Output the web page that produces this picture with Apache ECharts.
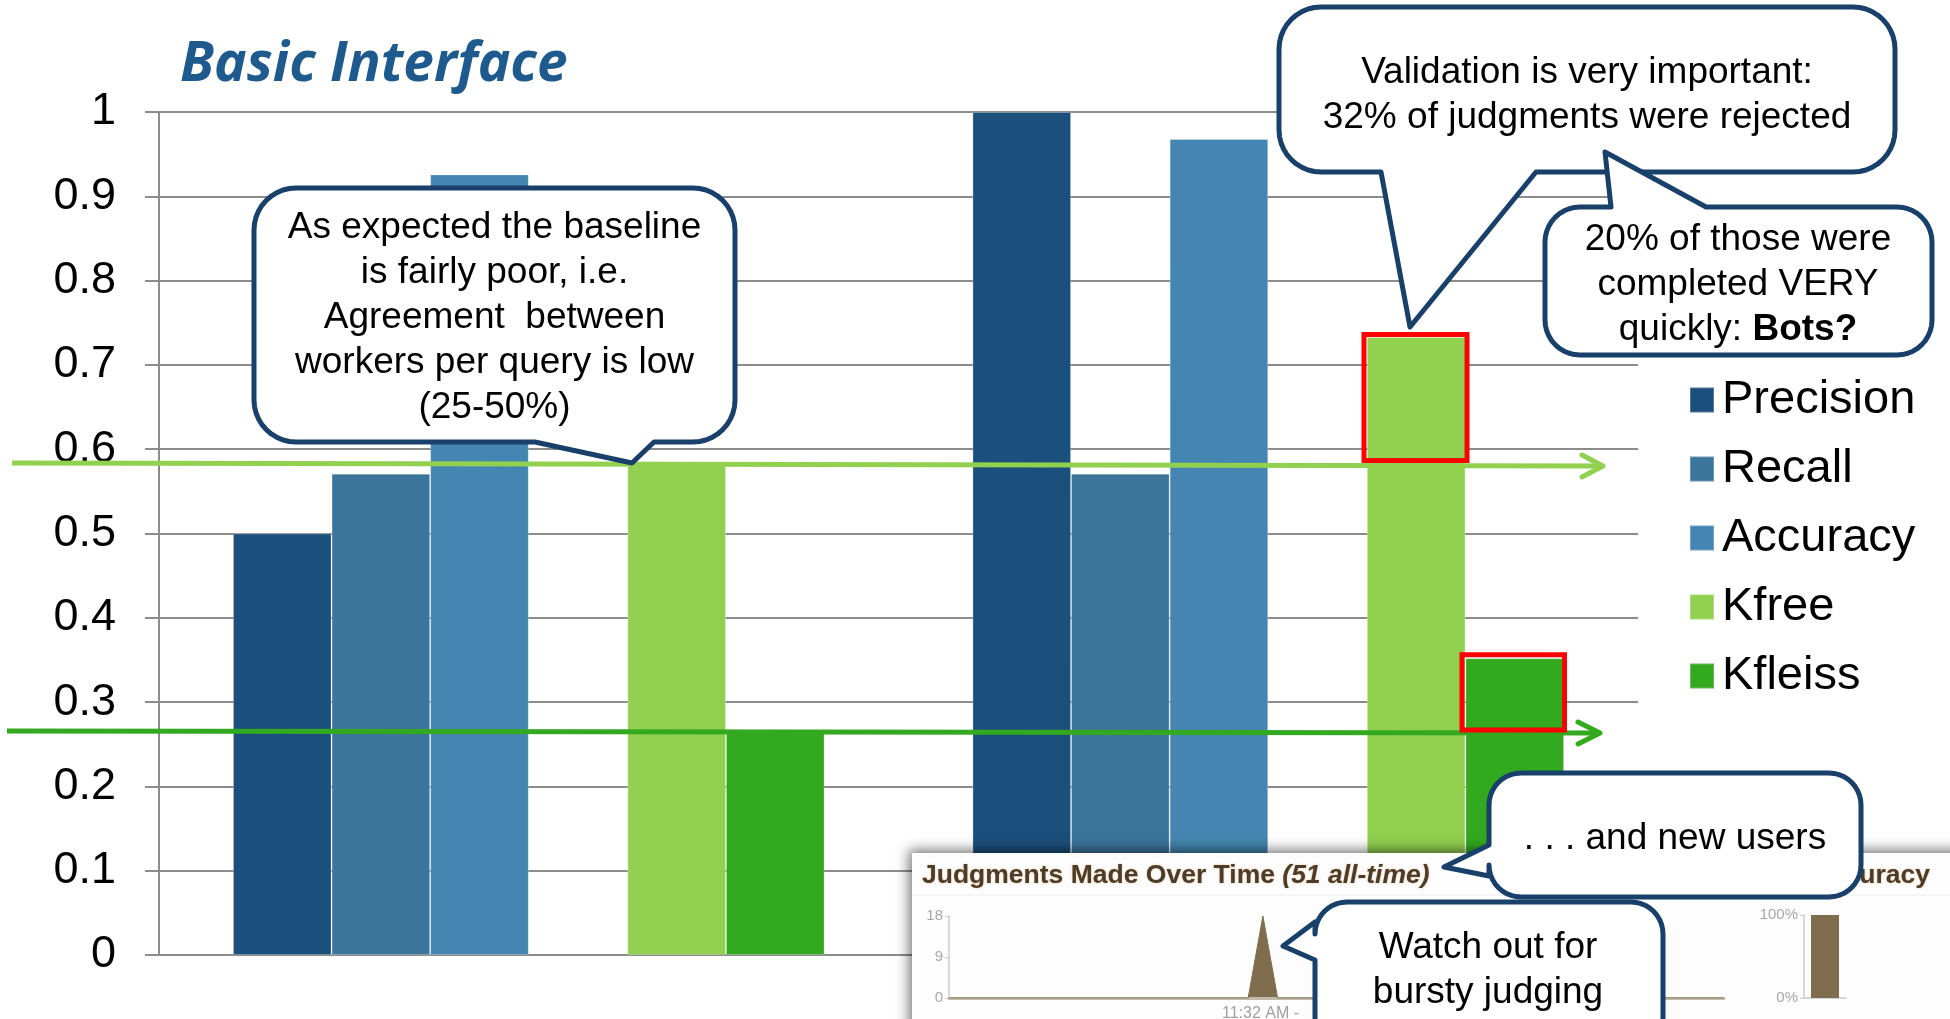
<!DOCTYPE html>
<html><head><meta charset="utf-8">
<script src="https://cdn.jsdelivr.net/npm/echarts@6/dist/echarts.min.js"></script>
<style>html,body{margin:0;padding:0;background:#fff}#c{width:1950px;height:1019px}</style>
</head><body><div id="c"></div>
<script>
// ---------- data ----------
const categories = ['Basic', 'Validated'];
const seriesNames = ['Precision', 'Recall', 'Accuracy', 'Kfree', 'Kfleiss'];
const precision = [0.5, 1.0];
const recall = [0.571, 0.571];
const accuracy = [0.926, 0.968];
const kfree = [0.585, 0.733];
const kfleiss = [0.265, 0.352];
const yTickLabels = ['0', '0.1', '0.2', '0.3', '0.4', '0.5', '0.6', '0.7', '0.8', '0.9', '1'];
// inset screenshot data
const burstTime = [0, 38.6, 40.5, 42.4, 100];
const burstCount = [0, 0, 18, 0, 0];
const insetAccuracy = [100];

// ---------- styles ----------
const FONT = "'Liberation Sans', Arial, sans-serif";
const colors = ['#1b4f7c', '#3b759b', '#4486b1', '#92d050', '#33a91f'];
const NAVY = '#18406a';

function calloutPoints(x0, y0, x1, y1, r, ptr) {
  ptr = ptr || {};
  const pts = [];
  const arc = (cx, cy, a0, a1) => {
    const n = 10;
    for (let i = 0; i <= n; i++) {
      const a = (a0 + (a1 - a0) * i / n) * Math.PI / 180;
      pts.push([cx + r * Math.cos(a), cy + r * Math.sin(a)]);
    }
  };
  arc(x0 + r, y0 + r, 180, 270);
  (ptr.top || []).forEach(p => pts.push(p));
  arc(x1 - r, y0 + r, 270, 360);
  (ptr.right || []).forEach(p => pts.push(p));
  arc(x1 - r, y1 - r, 0, 90);
  (ptr.bottom || []).forEach(p => pts.push(p));
  arc(x0 + r, y1 - r, 90, 180);
  (ptr.left || []).forEach(p => pts.push(p));
  return pts;
}
function callout(pts, zl, z) {
  return { type: 'polygon', zlevel: zl, z: z, shape: { points: pts },
    style: { fill: '#ffffff', stroke: NAVY, lineWidth: 5, lineJoin: 'round' } };
}
function ctext(x, y, text, zl, z, extra) {
  return Object.assign({ type: 'text', zlevel: zl, z: z, x: x, y: y,
    style: Object.assign({ text: text, fill: '#000', fontSize: 37, fontFamily: FONT,
      align: 'center', verticalAlign: 'middle', lineHeight: 45 }, extra || {}) });
}

const chart = echarts.init(document.getElementById('c'));

const barSeries = [];
const vals = [precision, recall, accuracy, null, kfree, kfleiss];
let ci = 0;
vals.forEach((v) => {
  if (v === null) {
    barSeries.push({ type: 'bar', name: ' ', data: [null, null], barGap: '0%', barCategoryGap: '20%' });
  } else {
    const col = colors[ci];
    barSeries.push({ type: 'bar', name: seriesNames[ci], data: v, barGap: '0%', barCategoryGap: '20%',
      itemStyle: { color: col, borderColor: 'rgba(255,255,255,0.25)', borderWidth: 1 } });
    ci++;
  }
});

const TITLE_FONT_INSET = 26.5;

const option = {
  animation: false,
  backgroundColor: '#ffffff',
  color: colors,
  legend: {
    data: seriesNames, orient: 'vertical', left: 1684, top: 370,
    itemWidth: 24, itemHeight: 25, itemGap: 19, icon: 'rect', selectedMode: false,
    textStyle: { fontSize: 47, fontFamily: FONT, color: '#000', lineHeight: 50, padding: [0, 0, 0, 3] }
  },
  grid: [
    { left: 159, right: 312, top: 112, bottom: 64 },
    { left: 949, top: 916, width: 775, height: 82, zlevel: 1, z: 5 },
    { left: 1804, top: 915, width: 42, height: 83, zlevel: 1, z: 5 }
  ],
  xAxis: [
    { type: 'category', gridIndex: 0, data: categories,
      axisLine: { lineStyle: { color: '#8c8c8c', width: 2 } },
      axisTick: { show: false }, axisLabel: { show: false } },
    { type: 'value', gridIndex: 1, min: 0, max: 100, zlevel: 1, z: 5,
      axisLine: { show: true, lineStyle: { color: '#c2baab', width: 3 } },
      axisTick: { show: false }, axisLabel: { show: false }, splitLine: { show: false } },
    { type: 'category', gridIndex: 2, data: ['Accuracy'], zlevel: 1, z: 5,
      axisLine: { lineStyle: { color: '#c8c8c8', width: 1.5 } },
      axisTick: { show: false }, axisLabel: { show: false } }
  ],
  yAxis: [
    { type: 'value', gridIndex: 0, min: 0, max: 1, interval: 0.1,
      axisLine: { show: true, lineStyle: { color: '#8c8c8c', width: 2 } },
      axisTick: { show: true, length: 14, lineStyle: { color: '#8c8c8c', width: 2 } },
      axisLabel: { fontSize: 45, fontFamily: FONT, color: '#000', margin: 43,
        formatter: (v) => yTickLabels[Math.round(v * 10)] },
      splitLine: { lineStyle: { color: '#8c8c8c', width: 2 } } },
    { type: 'value', gridIndex: 1, min: 0, max: 18, interval: 9, zlevel: 1, z: 5,
      axisLine: { show: true, lineStyle: { color: '#cccccc', width: 1.5 } },
      axisTick: { show: true, length: 4, lineStyle: { color: '#cccccc' } },
      axisLabel: { fontSize: 15, fontFamily: FONT, color: '#a8a8a8', margin: 6 },
      splitLine: { show: false } },
    { type: 'value', gridIndex: 2, min: 0, max: 100, interval: 100, zlevel: 1, z: 5,
      axisLine: { show: true, lineStyle: { color: '#cccccc', width: 1.5 } },
      axisTick: { show: true, length: 4, lineStyle: { color: '#cccccc' } },
      axisLabel: { fontSize: 15, fontFamily: FONT, color: '#a8a8a8', margin: 6, formatter: '{value}%' },
      splitLine: { show: false } }
  ],
  series: barSeries.concat([
    { type: 'line', xAxisIndex: 1, yAxisIndex: 1, zlevel: 1, z: 5, symbol: 'none',
      data: burstTime.map((t, i) => [t, burstCount[i]]),
      lineStyle: { color: '#7f6d4d', width: 1 }, areaStyle: { color: '#7f6d4d', opacity: 1 } },
    { type: 'bar', xAxisIndex: 2, yAxisIndex: 2, zlevel: 1, z: 5, data: insetAccuracy, barWidth: 28,
      itemStyle: { color: '#7f6d4d' } }
  ]),
  graphic: { elements: [
    // title
    { type: 'text', x: 180, y: 65, z: 20,
      style: { text: 'Basic Interface', fill: '#1e5a8e', fontSize: 55, fontWeight: 'bold', fontStyle: 'italic',
        fontFamily: "'Open Sans', Lato, sans-serif", align: 'left', verticalAlign: 'middle' } },
    // baseline arrows
    { type: 'polyline', z: 10, shape: { points: [[12, 463], [1600, 466]] },
      style: { stroke: '#92d050', lineWidth: 5, fill: null } },
    { type: 'polyline', z: 10, shape: { points: [[1582, 455], [1603, 466], [1582, 477]] },
      style: { stroke: '#92d050', lineWidth: 5, fill: null, lineCap: 'round', lineJoin: 'round' } },
    { type: 'polyline', z: 10, shape: { points: [[7, 731], [1598, 733]] },
      style: { stroke: '#33a91f', lineWidth: 5, fill: null } },
    { type: 'polyline', z: 10, shape: { points: [[1578, 722], [1600, 733], [1578, 744]] },
      style: { stroke: '#33a91f', lineWidth: 5, fill: null, lineCap: 'round', lineJoin: 'round' } },
    // red highlight boxes
    { type: 'rect', z: 11, shape: { x: 1364, y: 334.5, width: 103, height: 126 },
      style: { fill: null, stroke: '#ff0000', lineWidth: 5 } },
    { type: 'rect', z: 11, shape: { x: 1462, y: 654.7, width: 102.5, height: 75.3 },
      style: { fill: null, stroke: '#ff0000', lineWidth: 5 } },
    // callout 1
    callout(calloutPoints(254, 188, 735, 442, 42, { bottom: [[654, 442], [632, 463], [535, 442]] }), 0, 20),
    ctext(494.5, 318, 'As expected the baseline\nis fairly poor, i.e.\nAgreement  between\nworkers per query is low\n(25-50%)', 0, 21),
    // callout 2
    callout(calloutPoints(1279, 7, 1895, 172, 42, { bottom: [[1536, 172], [1410, 327], [1381, 172]] }), 0, 20),
    ctext(1587, 95, 'Validation is very important:\n32% of judgments were rejected', 0, 21),
    // callout 3
    callout(calloutPoints(1545, 207, 1932, 355, 35, { top: [[1611, 207], [1605, 152], [1706, 207]] }), 0, 22),
    ctext(1738, 285, '20% of those were\ncompleted VERY\nquickly: {b|Bots?}', 0, 23,
      { rich: { b: { fontWeight: 'bold', fontSize: 37, fontFamily: FONT, fill: '#000' } } }),
    // inset screenshot panel
    { type: 'rect', zlevel: 1, z: 1, shape: { x: 912, y: 853, width: 1060, height: 200 },
      style: { fill: '#fdfdfd', shadowBlur: 12, shadowColor: 'rgba(0,0,0,0.55)', shadowOffsetX: -3, shadowOffsetY: -3 } },
    { type: 'line', zlevel: 1, z: 2, shape: { x1: 912, y1: 895, x2: 1950, y2: 895 },
      style: { stroke: '#eeeeee', lineWidth: 1 } },
    { type: 'text', zlevel: 1, z: 6, x: 922, y: 876,
      style: { text: '{a|Judgments Made Over Time} {b|(51 all-time)}', fill: '#4b3d2a', fontSize: TITLE_FONT_INSET, fontWeight: 'bold',
        fontFamily: FONT, align: 'left', verticalAlign: 'middle',
        textShadowColor: 'rgba(210,130,40,0.55)', textShadowBlur: 2,
        rich: { a: { fontSize: TITLE_FONT_INSET, fontWeight: 'bold', fontFamily: FONT, fill: '#4b3d2a' },
                b: { fontSize: TITLE_FONT_INSET, fontWeight: 'bold', fontStyle: 'italic', fontFamily: FONT, fill: '#4b3d2a' } } } },
    { type: 'text', zlevel: 1, z: 6, x: 1930, y: 876,
      style: { text: 'Accuracy', fill: '#4b3d2a', fontSize: TITLE_FONT_INSET, fontWeight: 'bold', fontFamily: FONT,
        align: 'right', verticalAlign: 'middle', textShadowColor: 'rgba(210,130,40,0.55)', textShadowBlur: 2 } },
    { type: 'text', zlevel: 1, z: 6, x: 1222, y: 1014,
      style: { text: '11:32 AM -', fill: '#a0a0a0', fontSize: 16, fontFamily: FONT, align: 'left', verticalAlign: 'middle' } },
    // callout 4 & 5 (over the panel)
    callout(calloutPoints(1489, 773, 1861, 897, 32, { left: [[1489, 876], [1444, 867], [1489, 845]] }), 1, 20),
    ctext(1675, 838.5, '. . . and new users', 1, 21),
    callout(calloutPoints(1315, 902, 1663, 1050, 32, { left: [[1315, 960], [1283, 946], [1315, 922]] }), 1, 20),
    ctext(1488, 970.5, 'Watch out for\nbursty judging', 1, 21, { lineHeight: 45 })
  ] }
};
chart.setOption(option);
</script></body></html>
